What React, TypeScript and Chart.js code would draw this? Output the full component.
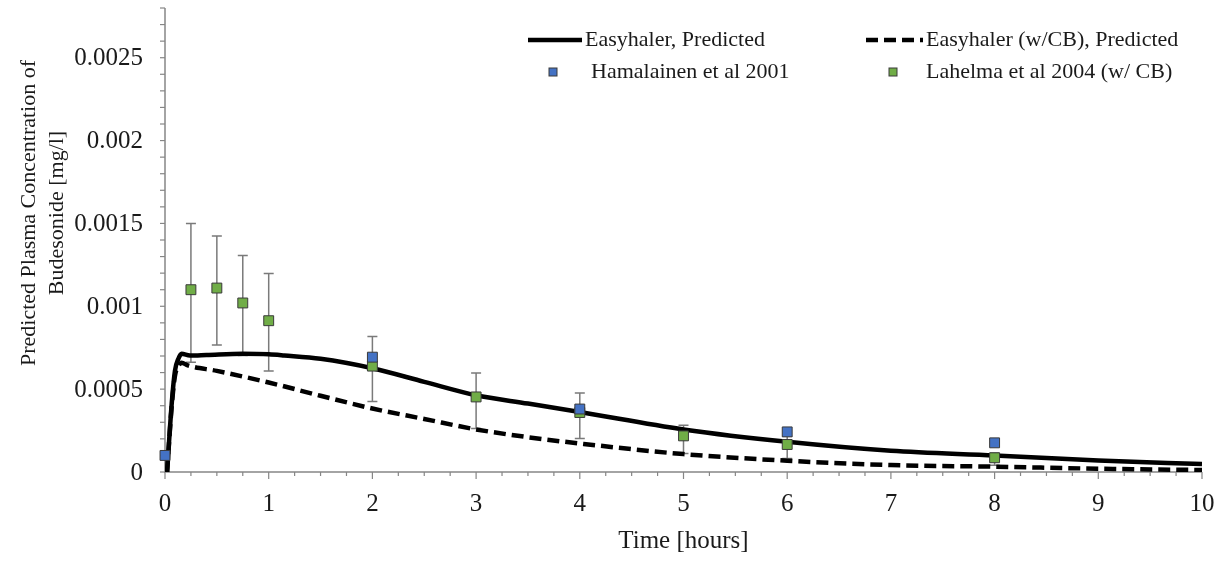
import React, { useEffect, useRef } from "react";
import { Chart, registerables } from "chart.js";
Chart.register(...registerables);

// ---- data ----
const solidTime = [0.02, 0.065, 0.096, 0.13, 0.16, 0.24, 0.4, 0.75, 1.0, 1.15, 1.5, 2.0, 2.5, 3.0, 3.5, 4.0, 5.0, 6.0, 7.0, 8.0, 9.0, 10.0];
const solidConc = [0, 0.000415, 0.00061, 0.000685, 0.000713, 0.000703, 0.000706, 0.000713, 0.00071, 0.000703, 0.000683, 0.000626, 0.000544, 0.000463, 0.000413, 0.000362, 0.000257, 0.000182, 0.000128, 0.0001, 0.00007, 0.000048];

const dashedTime = [0.02, 0.065, 0.096, 0.13, 0.16, 0.22, 0.5, 1.0, 1.5, 2.0, 2.5, 3.0, 3.5, 4.0, 5.0, 6.0, 7.0, 8.0, 9.0, 10.0];
const dashedConc = [0, 0.0004, 0.00058, 0.00064, 0.00066, 0.000643, 0.00061, 0.00054, 0.00046, 0.000383, 0.00032, 0.000257, 0.00021, 0.000172, 0.000108, 0.000068, 0.000042, 0.000032, 0.00002, 0.000012];

const hamTime = [0, 2, 4, 6, 8];
const hamConc = [0.0001, 0.000693, 0.00038, 0.000242, 0.000176];

const lahTime = [0.25, 0.5, 0.75, 1, 2, 3, 4, 5, 6, 8];
const lahConc = [0.0011, 0.00111, 0.00102, 0.000913, 0.000639, 0.000453, 0.000359, 0.000218, 0.000166, 0.000086];
const lahHigh = [0.0015, 0.001424, 0.001306, 0.001198, 0.000817, 0.000597, 0.000477, 0.000282, 0.000216, 0.000115];
const lahLow = [0.000663, 0.000767, 0.000703, 0.000609, 0.000425, 0.000262, 0.000202, 0.000112, 0.000082, 0.00004];

const seriesLabels = [
  "Easyhaler, Predicted",
  "Easyhaler (w/CB), Predicted",
  "Hamalainen et al 2001",
  "Lahelma et al 2004 (w/ CB)",
];
const xTitle = "Time [hours]";
const yTitleLines = ["Predicted Plasma Concentration of", "Budesonide [mg/l]"];

const FONT = "'Liberation Serif', 'Times New Roman', serif";
const TEXT = "#1a1a1a";
const AXIS = "#868686";
const BLUE = "#4472C4";
const GREEN = "#70AD47";
const MARK_BORDER = "#3a3a3a";
const DASH = [12, 6];

const isMultiple = (v: number, step: number) => {
  const k = v / step;
  return Math.abs(k - Math.round(k)) < 1e-6;
};
const yLabel = (v: number) => (isMultiple(v, 0.0005) ? String(Number(Number(v).toFixed(4))) : "");
const xLabel = (v: number) => (isMultiple(v, 1) ? String(Math.round(v)) : "");

const customPlugin = {
  id: "custom",
  beforeDatasetsDraw(chart: any) {
    const { ctx, chartArea } = chart;
    const xs = chart.scales.x;
    const ys = chart.scales.y;
    ctx.save();
    // axis lines
    ctx.strokeStyle = AXIS;
    ctx.lineWidth = 1.5;
    ctx.beginPath();
    ctx.moveTo(chartArea.left, chartArea.top);
    ctx.lineTo(chartArea.left, chartArea.bottom);
    ctx.lineTo(chartArea.right, chartArea.bottom);
    ctx.stroke();
    // ticks and labels
    ctx.lineWidth = 1.2;
    ctx.fillStyle = TEXT;
    ctx.font = `25px ${FONT}`;
    ctx.textAlign = "center";
    ctx.textBaseline = "middle";
    xs.ticks.forEach((t: any) => {
      const px = xs.getPixelForValue(t.value);
      const lab = xLabel(t.value);
      ctx.beginPath();
      ctx.moveTo(px, chartArea.bottom);
      ctx.lineTo(px, chartArea.bottom + (lab ? 7 : 4));
      ctx.stroke();
      if (lab) ctx.fillText(lab, px, 504);
    });
    ctx.textAlign = "right";
    ys.ticks.forEach((t: any) => {
      const py = ys.getPixelForValue(t.value);
      ctx.beginPath();
      ctx.moveTo(chartArea.left - 5, py);
      ctx.lineTo(chartArea.left, py);
      ctx.stroke();
      const lab = yLabel(t.value);
      if (lab) ctx.fillText(lab, 143, py + 1);
    });
    // error bars
    ctx.strokeStyle = "#7a7a7a";
    ctx.lineWidth = 1.5;
    lahTime.forEach((t, i) => {
      const px = xs.getPixelForValue(t);
      const yh = ys.getPixelForValue(lahHigh[i]);
      const yl = ys.getPixelForValue(lahLow[i]);
      ctx.beginPath();
      ctx.moveTo(px, yh);
      ctx.lineTo(px, yl);
      ctx.moveTo(px - 5, yh);
      ctx.lineTo(px + 5, yh);
      ctx.moveTo(px - 5, yl);
      ctx.lineTo(px + 5, yl);
      ctx.stroke();
    });
    ctx.restore();
  },
  afterDraw(chart: any) {
    const { ctx, chartArea } = chart;
    ctx.save();
    ctx.fillStyle = TEXT;
    // x title
    ctx.font = `25px ${FONT}`;
    ctx.textAlign = "center";
    ctx.textBaseline = "middle";
    ctx.fillText(xTitle, (chartArea.left + chartArea.right) / 2, 541);
    // y title
    ctx.font = `22px ${FONT}`;
    ctx.save();
    ctx.translate(29, 213);
    ctx.rotate(-Math.PI / 2);
    ctx.fillText(yTitleLines[0], 0, 0);
    ctx.fillText(yTitleLines[1], 0, 28);
    ctx.restore();
    // legend
    ctx.textAlign = "left";
    ctx.font = `22px ${FONT}`;
    const r1 = 40;
    const r2 = 72;
    ctx.strokeStyle = "#000";
    ctx.lineWidth = 4.5;
    ctx.beginPath();
    ctx.moveTo(528, r1);
    ctx.lineTo(582, r1);
    ctx.stroke();
    ctx.fillText(seriesLabels[0], 585, r1);
    ctx.setLineDash(DASH);
    ctx.beginPath();
    ctx.moveTo(866, r1);
    ctx.lineTo(923, r1);
    ctx.stroke();
    ctx.setLineDash([]);
    ctx.fillText(seriesLabels[1], 926, r1);
    const sq = (cx: number, cy: number, fill: string) => {
      ctx.fillStyle = fill;
      ctx.fillRect(cx - 4, cy - 4, 8, 8);
      ctx.strokeStyle = MARK_BORDER;
      ctx.lineWidth = 1;
      ctx.strokeRect(cx - 4, cy - 4, 8, 8);
    };
    sq(553, r2, BLUE);
    ctx.fillStyle = TEXT;
    ctx.fillText(seriesLabels[2], 591, r2);
    sq(893, r2, GREEN);
    ctx.fillStyle = TEXT;
    ctx.fillText(seriesLabels[3], 926, r2);
    ctx.restore();
  },
};

export default function App() {
  const ref = useRef<HTMLCanvasElement>(null);
  useEffect(() => {
    document.body.style.margin = "0";
    const canvas = ref.current!;
    const chart = new Chart(canvas, {
      type: "scatter",
      data: {
        datasets: [
          {
            label: seriesLabels[2],
            data: hamTime.map((t, i) => ({ x: t, y: hamConc[i] })),
            pointStyle: "rect",
            pointRadius: 7,
            backgroundColor: BLUE,
            borderColor: MARK_BORDER,
            borderWidth: 1,
            clip: false,
          } as any,
          {
            label: seriesLabels[3],
            data: lahTime.map((t, i) => ({ x: t, y: lahConc[i] })),
            pointStyle: "rect",
            pointRadius: 7,
            backgroundColor: GREEN,
            borderColor: MARK_BORDER,
            borderWidth: 1,
            clip: false,
          } as any,
          {
            label: seriesLabels[0],
            data: solidTime.map((t, i) => ({ x: t, y: solidConc[i] })),
            showLine: true,
            pointRadius: 0,
            borderColor: "#000",
            borderWidth: 4.5,
            cubicInterpolationMode: "monotone",
          } as any,
          {
            label: seriesLabels[1],
            data: dashedTime.map((t, i) => ({ x: t, y: dashedConc[i] })),
            showLine: true,
            pointRadius: 0,
            borderColor: "#000",
            borderWidth: 4.5,
            borderDash: DASH,
            cubicInterpolationMode: "monotone",
          } as any,
        ],
      },
      options: {
        responsive: false,
        animation: false,
        devicePixelRatio: 1,
        layout: { padding: { top: 6, right: 23, left: 0, bottom: 0 } },
        plugins: { legend: { display: false }, tooltip: { enabled: false } },
        events: [],
        scales: {
          x: {
            type: "linear",
            min: 0,
            max: 10,
            grid: { display: false, drawTicks: false, tickLength: 0 },
            border: { display: false },
            ticks: { display: false, stepSize: 0.25, autoSkip: false },
            afterFit: (s: any) => {
              s.height = 99;
            },
          },
          y: {
            type: "linear",
            min: 0,
            max: 0.0028,
            grid: { display: false, drawTicks: false, tickLength: 0 },
            border: { display: false },
            ticks: { display: false, stepSize: 0.0001, autoSkip: false },
            afterFit: (s: any) => {
              s.width = 165;
            },
          },
        },
      },
      plugins: [customPlugin],
    });
    return () => chart.destroy();
  }, []);
  return (
    <div style={{ position: "fixed", left: 0, top: 0, width: 1225, height: 571, background: "#fff" }}>
      <canvas ref={ref} width={1225} height={571} style={{ display: "block", width: 1225, height: 571 }} />
    </div>
  );
}
